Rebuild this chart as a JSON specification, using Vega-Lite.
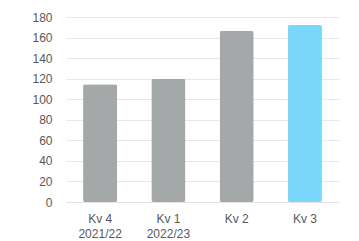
{
  "$schema": "https://vega.github.io/schema/vega-lite/v6.json",
  "width": 273,
  "height": 185,
  "autosize": {"type": "none"},
  "padding": {"left": 66, "top": 17, "right": 20, "bottom": 39},
  "background": "white",
  "config": {
    "view": {"stroke": null},
    "font": "Liberation Sans",
    "axis": {"labelFont": "Liberation Sans", "labelFontSize": 12, "labelColor": "#595959"}
  },
  "data": {
    "values": [
      {"quarter": "Kv 4|2021/22", "value": 114.5, "current": "no"},
      {"quarter": "Kv 1|2022/23", "value": 119.8, "current": "no"},
      {"quarter": "Kv 2", "value": 166.3, "current": "no"},
      {"quarter": "Kv 3", "value": 172.2, "current": "yes"}
    ]
  },
  "mark": {"type": "bar", "cornerRadius": 2},
  "encoding": {
    "x": {
      "field": "quarter",
      "type": "nominal",
      "sort": null,
      "scale": {"paddingInner": 0.5, "paddingOuter": 0.25},
      "axis": {
        "title": null,
        "labelAngle": 0,
        "domain": true,
        "domainColor": "#E3E3E3",
        "ticks": false,
        "labelPadding": 11,
        "labelExpr": "split(datum.value, '|')",
        "labelLineHeight": 15
      }
    },
    "y": {
      "field": "value",
      "type": "quantitative",
      "scale": {"domain": [0, 180]},
      "axis": {
        "title": null,
        "values": [0, 20, 40, 60, 80, 100, 120, 140, 160, 180],
        "domain": false,
        "ticks": false,
        "labelPadding": 14,
        "gridColor": "#E8E8E8",
        "gridWidth": 1
      }
    },
    "color": {
      "field": "current",
      "type": "nominal",
      "scale": {"domain": ["no", "yes"], "range": ["#A5A8A8", "#7AD7F9"]},
      "legend": null
    }
  }
}
